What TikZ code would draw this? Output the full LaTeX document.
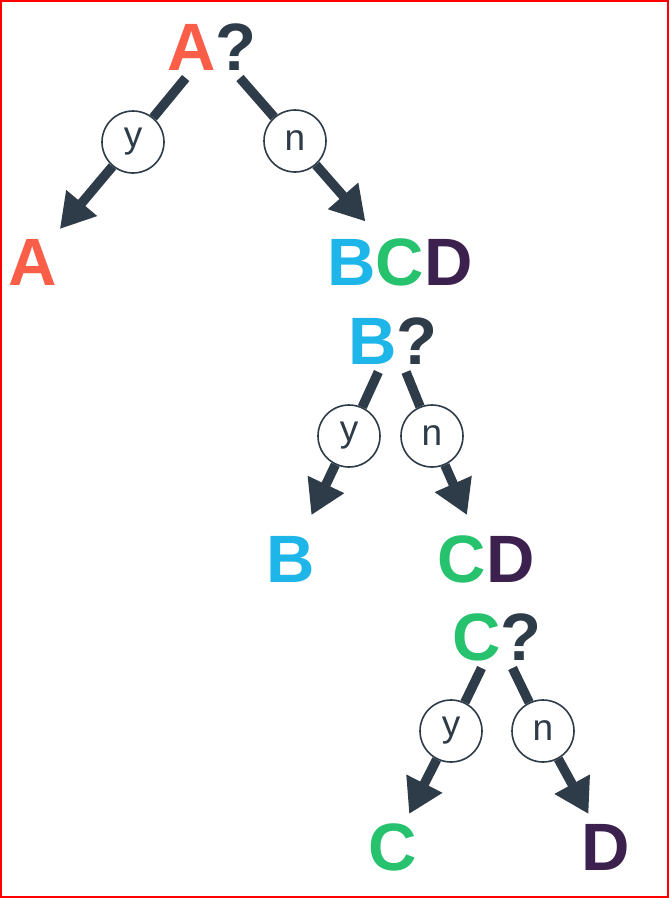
\documentclass[tikz,border=0pt]{standalone}
\usepackage{fontspec}
\setmainfont{Liberation Sans}
\usepackage{xcolor}
\usetikzlibrary{arrows.meta,positioning}
\definecolor{dtdark}{RGB}{46,59,72}
\definecolor{dtA}{RGB}{250,94,72}
\definecolor{dtB}{RGB}{30,182,232}
\definecolor{dtC}{RGB}{38,194,110}
\definecolor{dtD}{RGB}{60,32,78}
\tikzset{
  dtletter/.style={inner sep=0pt, outer sep=8pt, text height=48pt,
    text depth=0pt, font=\fontsize{67}{67}\selectfont\bfseries},
  dtchoice/.style={circle, draw=dtdark, line width=1.6pt, fill=white,
    minimum size=62pt, inner sep=0pt, text=dtdark,
    font=\fontsize{37}{37}\selectfont},
  dtedge/.style={line width=9.5pt, draw=dtdark},
  dtarrow/.style={dtedge, -{Triangle[length=34pt, width=38pt]}}
}

\begin{document}
\begin{tikzpicture}
  \useasboundingbox (0pt,0pt) rectangle (669pt,-898pt);
  \draw[red, line width=2pt] (1pt,-1pt) rectangle (668pt,-897pt);
  % first question
  \node[dtletter] (qA) at (212pt,-46pt) {\color{dtA}A\color{dtdark}?};
  \node[dtletter] (lA) at (33pt,-261pt) {\color{dtA}A};
  \node[dtletter] (lBCD) at (400pt,-261pt) {\color{dtB}B\color{dtC}C\color{dtD}D};
  \node[dtchoice] (yA) at (133pt,-142pt) {y};
  \node[dtchoice] (nA) at (295pt,-141pt) {n};
  % second question
  \node[dtletter] (qB) at (393pt,-340pt) {\color{dtB}B\color{dtdark}?};
  \node[dtletter] (lB) at (291pt,-558pt) {\color{dtB}B};
  \node[dtletter] (lCD) at (486pt,-558pt) {\color{dtC}C\color{dtD}D};
  \node[dtchoice] (yB) at (349pt,-436pt) {y};
  \node[dtchoice] (nB) at (432pt,-436pt) {n};
  % third question
  \node[dtletter] (qC) at (497pt,-636pt) {\color{dtC}C\color{dtdark}?};
  \node[dtletter] (lC) at (393pt,-846pt) {\color{dtC}C};
  \node[dtletter] (lD) at (606pt,-846pt) {\color{dtD}D};
  \node[dtchoice] (yC) at (451pt,-731pt) {y};
  \node[dtchoice] (nC) at (543pt,-731pt) {n};
  \draw[dtedge] (qA) -- (yA);
  \draw[dtedge] (qA) -- (nA);
  \draw[dtarrow] (yA) -- (lA);
  \draw[dtarrow, shorten >=10pt] (nA) -- (lBCD);
  \draw[dtedge] (qB) -- (yB);
  \draw[dtedge] (qB) -- (nB);
  \draw[dtarrow, shorten >=12pt] (yB) -- (lB);
  \draw[dtarrow, shorten >=12pt] (nB) -- (lCD);
  \draw[dtedge] (qC) -- (yC);
  \draw[dtedge] (qC) -- (nC);
  \draw[dtarrow] (yC) -- (lC);
  \draw[dtarrow] (nC) -- (lD);
\end{tikzpicture}
\end{document}
